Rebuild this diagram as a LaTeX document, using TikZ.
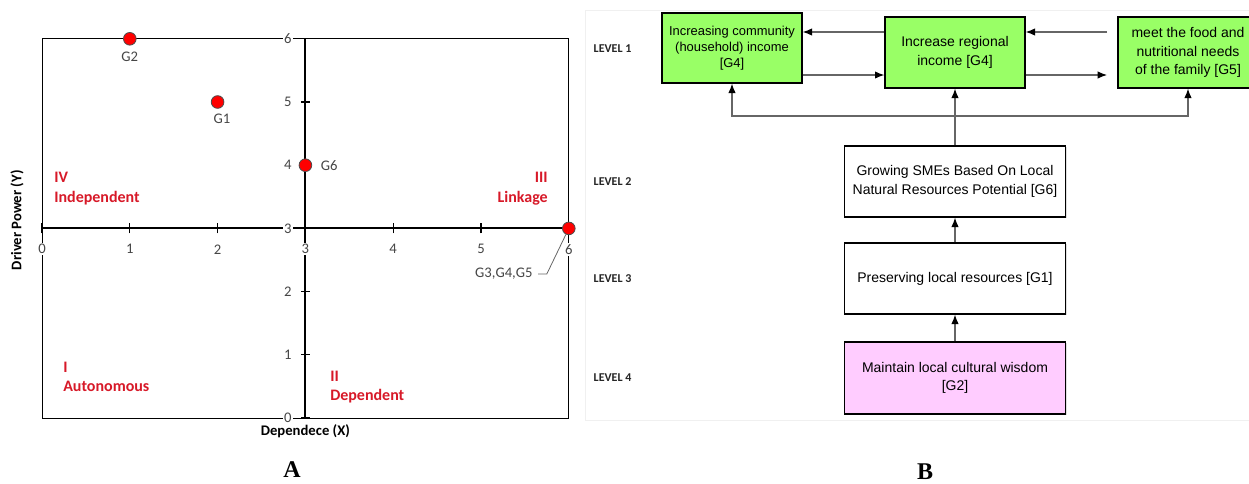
\documentclass[tikz,border=0pt]{standalone}
\usepackage{fontspec}
\setmainfont{Carlito}
\newfontfamily\cajafont{Liberation Sans}
\newfontfamily\letrafont{Liberation Serif}
\usetikzlibrary{arrows.meta,shadows}

\definecolor{rojoq}{RGB}{215,25,40}
\definecolor{verde}{RGB}{153,255,102}
\definecolor{rosa}{RGB}{255,204,255}
\definecolor{gristxt}{RGB}{70,70,70}

\tikzset{
  eje/.style={line width=1.5pt},
  marca/.style={line width=1pt},
  etiq/.style={fill=white,inner sep=1pt,text=gristxt,font=\fontsize{11}{13}\selectfont},
  nombre/.style={inner sep=1pt,text=gristxt,font=\fontsize{11}{13}\selectfont},
  punto/.style={circle,fill=red,draw=black!70,line width=0.6pt,minimum size=9.5pt,inner sep=0pt},
  cuadrante/.style={inner sep=0pt,text=rojoq,font=\fontsize{12}{14.5}\selectfont\bfseries},
  caja/.style={draw,line width=1pt,minimum width=165.75pt,minimum height=53.25pt,align=center,
    font=\cajafont\fontsize{10.5}{13.8}\selectfont,
    drop shadow={shadow xshift=1pt,shadow yshift=-1pt,opacity=0.25}},
  flecha/.style={draw=black!60,line width=0.8pt,-{Latex[length=7pt,width=5.5pt,color=black]}},
  nivel/.style={anchor=west,font=\fontsize{9}{11}\selectfont\bfseries,text=black!85}
}

\begin{document}
\begin{tikzpicture}[x=0.75pt,y=-0.75pt]
  \useasboundingbox (0,0) rectangle (1249,483);

  % Fondo del diagrama B
  \draw[black!6,fill=white] (585,10.5) rectangle (1262,420.5);

  % Grafico A
  \begin{scope}[shift={(42,418)},x=65.85pt,y=47.4pt]
    % Marco
    \draw[line width=0.7pt] (0,0) rectangle (6,6);
    % Ejes
    \draw[eje] (0,3) -- (6,3);
    \draw[eje] (3,0) -- (3,6);
    % Marcas
    \foreach \i in {0,...,6} {
      \draw[marca] (\i,2.92) -- (\i,3.08);
      \draw[marca] (2.95,\i) -- (3.05,\i);
    }
    \foreach \i in {0,...,6} {
      \node[etiq] (ex\i) at (\i,2.67) {\i};
      \node[etiq] (ey\i) at (2.8,\i) {\i};
    }

    % Cuadrantes
    \node[cuadrante,anchor=west,align=left] (q4) at (0.137,3.63) {IV\\Independent};
    \node[cuadrante,anchor=east,align=right] (q3) at (5.763,3.63) {III\\Linkage};
    \node[cuadrante,anchor=west,align=left] (q1) at (0.239,0.649) {I\\Autonomous};
    \node[cuadrante,anchor=west,align=left] (q2) at (3.28,0.49) {II\\Dependent};

    % Puntos
    \node[punto] (p2) at (1,6) {};
    \node[punto] (p1) at (2,5) {};
    \node[punto] (p6) at (3,4) {};
    \node[punto] (p345) at (6,3) {};
    \node[nombre] (g2lab) at (1,5.71) {G2};
    \node[nombre] (g1lab) at (2.05,4.73) {G1};
    \node[nombre] (g6lab) at (3.27,3.99) {G6};
    \node[nombre] (g345lab) at (5.26,2.28) {G3,G4,G5};
    \coordinate (codo) at (5.75,2.28);
    \draw[black!60,line width=0.6pt] ([xshift=3pt]g345lab.east) -- (codo) -- (p345);

    % Titulos de ejes
    \node[font=\fontsize{11}{13}\selectfont\bfseries] (tx) at (3,-0.21) {Dependece (X)};
    \node[rotate=90,font=\fontsize{11}{13}\selectfont\bfseries] (ty) at (-0.285,3.13) {Driver Power (Y)};
  \end{scope}

  % Diagrama B
  \node[nivel] (n1) at (589,49) {LEVEL 1};
  \node[nivel] (n2) at (589,182) {LEVEL 2};
  \node[nivel] (n3) at (589,279) {LEVEL 3};
  \node[nivel] (n4) at (589,378) {LEVEL 4};

  \node[caja,fill=verde,minimum width=105pt,minimum height=52.5pt,
    font=\cajafont\fontsize{9.7}{12}\selectfont] (g4a) at (732,48)
    {Increasing community\\(household) income\\{[G4]}};
  \node[caja,fill=verde,minimum width=105pt] (g4b) at (955,52.5) {Increase regional\\income [G4]};
  \node[caja,fill=verde,minimum width=105pt] (g5) at (1188,52.5)
    {meet the food and\\nutritional needs\\of the family [G5]};
  \node[caja,fill=white] (g6) at (955,181.5) {Growing SMEs Based On Local\\Natural Resources Potential [G6]};
  \node[caja,fill=white] (g1) at (955,278.5) {Preserving local resources [G1]};
  \node[caja,fill=rosa,minimum height=54pt] (g2) at (955,378) {Maintain local cultural wisdom\\{[G2]}};

  % Flechas
  \coordinate (r1) at (1107,32);
  \coordinate (r2) at (1107,75);
  \coordinate (junta) at (955,116);
  \draw[flecha] (g4b.west |- r1) -- (g4a.east |- r1);
  \draw[flecha] (g4a.east |- r2) -- (g4b.west |- r2);
  \draw[flecha] (r1) -- (g4b.east |- r1);
  \draw[flecha] (g4b.east |- r2) -- (r2);
  \draw[flecha] (g6.north) -- (g4b.south);
  \draw[flecha] (junta) -| (g4a.south);
  \draw[flecha] (junta) -| (g5.south);
  \draw[flecha] (g1.north) -- (g6.south);
  \draw[flecha] (g2.north) -- (g1.south);

  % Letras
  \node[font=\letrafont\fontsize{18}{20}\selectfont\bfseries] (la) at (292,470) {A};
  \node[font=\letrafont\fontsize{18}{20}\selectfont\bfseries] (lb) at (925,472) {B};
\end{tikzpicture}
\end{document}
